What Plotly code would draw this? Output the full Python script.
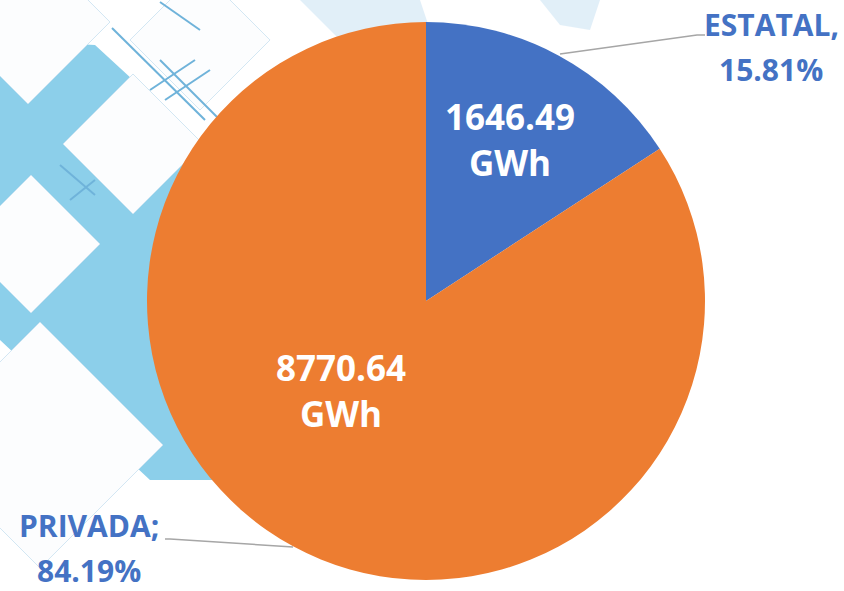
import plotly.graph_objects as go

# ---- data ----
labels = ["ESTATAL", "PRIVADA"]
separators = [",", ";"]
values = [1646.49, 8770.64]
unit = "GWh"
colors = ["#4472C4", "#ED7D31"]

W, H = 844, 591
total = sum(values)
pcts = [v / total * 100 for v in values]


def P(x, y):
    return x / W, 1 - y / H


def path(pts, close=True):
    s = ""
    for i, (x, y) in enumerate(pts):
        px, py = P(x, y)
        s += ("M" if i == 0 else "L") + f"{px:.5f},{py:.5f} "
    return s + ("Z" if close else "")


def diamond(cx, cy, r):
    return path([(cx, cy - r), (cx + r, cy), (cx, cy + r), (cx - r, cy)])


shapes = []
# decorative background (light blue geometric pattern)
BLUE = "#8CCFEA"
shapes.append(dict(type="path", path=path([(0, 40), (95, 45), (220, 160), (200, 300),
                                           (215, 480), (150, 480), (0, 340)]),
                   fillcolor=BLUE, line=dict(width=0), layer="below", xref="paper", yref="paper"))
shapes.append(dict(type="path", path=path([(300, 0), (420, 0), (430, 30), (360, 60)]),
                   fillcolor="rgba(170,210,235,0.35)", line=dict(width=0), layer="below",
                   xref="paper", yref="paper"))
shapes.append(dict(type="path", path=path([(540, 0), (600, 0), (590, 30), (560, 25)]),
                   fillcolor="rgba(170,210,235,0.35)", line=dict(width=0), layer="below",
                   xref="paper", yref="paper"))
for cx, cy, r in [(28, 22, 82), (133, 144, 70), (31, 244, 69), (40, 445, 123), (200, 40, 70)]:
    shapes.append(dict(type="path", path=diamond(cx, cy, r), fillcolor="#FCFDFE",
                       line=dict(color="rgba(200,225,240,0.8)", width=1), layer="below",
                       xref="paper", yref="paper"))
for (x0, y0, x1, y1) in [(112, 28, 205, 120), (160, 60, 250, 150), (150, 90, 195, 60),
                         (165, 100, 210, 70), (60, 165, 95, 195), (70, 200, 95, 180),
                         (160, 2, 200, 30)]:
    a, b = P(x0, y0)
    c, d = P(x1, y1)
    shapes.append(dict(type="line", x0=a, y0=b, x1=c, y1=d, xref="paper", yref="paper",
                       line=dict(color="#6FB3DA", width=2), layer="below"))

# leader lines
for pts in [[(560, 54), (697, 35), (705, 35)], [(293, 547), (170, 539), (165, 539)]]:
    shapes.append(dict(type="path", path=path(pts, close=False),
                       line=dict(color="#A6A6A6", width=1.5),
                       xref="paper", yref="paper", layer="above"))

cx, cy, R = 426, 301, 279
fig = go.Figure(go.Pie(
    labels=labels, values=values, sort=False, direction="clockwise", rotation=0,
    marker=dict(colors=colors, line=dict(width=0)),
    textinfo="none", hoverinfo="label+value+percent", showlegend=False,
    domain=dict(x=[(cx - R) / W, (cx + R) / W], y=[1 - (cy + R) / H, 1 - (cy - R) / H]),
))

FONT = "Open Sans"
ann = []
# inside labels (value + unit, two lines)
inner_pos = [(510, 139), (341, 391)]
for v, (x, y) in zip(values, inner_pos):
    px, py = P(x, y)
    ann.append(dict(x=px, y=py, xref="paper", yref="paper",
                    text=f"<b>{v:.2f}<br>{unit}</b>",
                    showarrow=False, xanchor="center", yanchor="middle", align="center",
                    font=dict(family=FONT, size=35, color="white")))
# outside labels
outer_pos = [(771, 25, 70), (89, 525, 570)]
for lab, sep, p, (x, y1, y2) in zip(labels, separators, pcts, outer_pos):
    for txt, y in [(lab + sep, y1), (f"{p:.2f}%", y2)]:
        px, py = P(x, y)
        ann.append(dict(x=px, y=py, xref="paper", yref="paper", text=f"<b>{txt}</b>",
                        showarrow=False, xanchor="center", yanchor="middle",
                        font=dict(family=FONT, size=30, color="#4472C4")))

fig.update_layout(width=W, height=H, margin=dict(l=0, r=0, t=0, b=0),
                  paper_bgcolor="white", plot_bgcolor="white",
                  shapes=shapes, annotations=ann)
fig.write_html("out.html", config={"displayModeBar": False},
               post_script="document.body.style.margin='0';document.body.style.padding='0';")
